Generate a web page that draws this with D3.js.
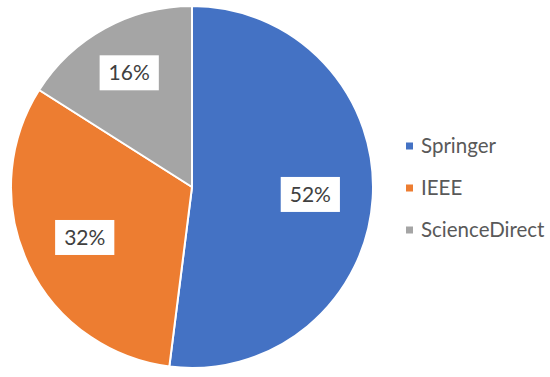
<!DOCTYPE html>
<html>
<head>
<meta charset="utf-8">
<script src="https://cdn.jsdelivr.net/npm/d3@7"></script>
<style>
  body { margin: 0; background: #fff; }
  svg { display: block; }
</style>
</head>
<body>
<div id="chart"></div>
<script>
// chart data
const publishers = ["Springer", "IEEE", "ScienceDirect"];
const shares = [52, 32, 16];
const colors = ["#4472C4", "#ED7D31", "#A5A5A5"];

const width = 550, height = 377;
const cx = 192, cy = 187, radius = 181;

const svg = d3.select("#chart").append("svg")
  .attr("width", width)
  .attr("height", height);

const color = d3.scaleOrdinal().domain(publishers).range(colors);

//pie starts at 12 o'clock and goes clockwise, keep data order
const pie = d3.pie().sort(null).value(d => d.value);
const arcs = pie(publishers.map((p, i) => ({ name: p, value: shares[i] })));

const arc = d3.arc().innerRadius(0).outerRadius(radius);

const g = svg.append("g").attr("transform", `translate(${cx},${cy})`);

g.selectAll("path.slice")
  .data(arcs)
  .enter()
  .append("path")
  .attr("class", "slice")
  .attr("d", arc)
  .attr("fill", d => color(d.data.name))
  .attr("stroke", "#fff")
  .attr("stroke-width", 2);

//data labels in white boxes
const labels = g.selectAll("g.label")
  .data(arcs)
  .enter()
  .append("g")
  .attr("class", "label")
  .attr("transform", d => {
    //small slices get their label pushed out a bit
    const lr = d.data.value < 20 ? radius * 0.72 : radius * 0.655;
    const a = (d.startAngle + d.endAngle) / 2;
    return `translate(${Math.sin(a) * lr},${-Math.cos(a) * lr})`;
  });

labels.append("text")
  .attr("text-anchor", "middle")
  .attr("dy", "0.36em")
  .attr("font-family", "Lato, 'Noto Sans', sans-serif")
  .attr("font-size", 21)
  .attr("fill", "#404040")
  .text(d => d.data.value + "%");

labels.each(function() {
  const box = d3.select(this).select("text").node().getBBox();
  d3.select(this).insert("rect", "text")
    .attr("x", box.x - 9)
    .attr("y", -17.5)
    .attr("width", box.width + 18)
    .attr("height", 35)
    .attr("fill", "#fff");
});

//legend
const legend = svg.append("g").attr("transform", "translate(406,146)");

const item = legend.selectAll("g")
  .data(publishers)
  .enter()
  .append("g")
  .attr("transform", (d, i) => `translate(0,${i * 42})`);

item.append("rect")
  .attr("x", 0)
  .attr("y", -3.5)
  .attr("width", 7)
  .attr("height", 7)
  .attr("fill", d => color(d));

item.append("text")
  .attr("x", 15)
  .attr("dy", "0.36em")
  .attr("font-family", "Lato, 'Noto Sans', sans-serif")
  .attr("font-size", 20.5)
  .attr("fill", "#595959")
  .text(d => d);
</script>
</body>
</html>
